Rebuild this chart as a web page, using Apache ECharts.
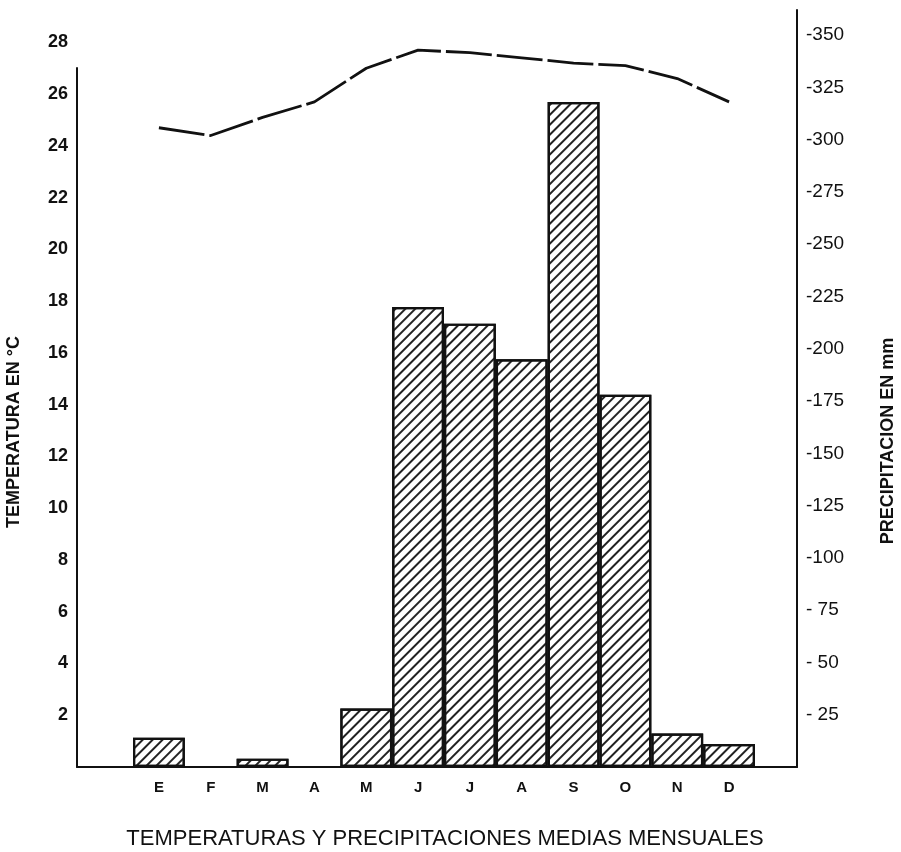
<!DOCTYPE html>
<html>
<head>
<meta charset="utf-8">
<script src="https://cdn.jsdelivr.net/npm/echarts@6/dist/echarts.min.js"></script>
<style>
html,body{margin:0;padding:0;background:#fff;}
#chart{width:901px;height:852px;}
</style>
</head>
<body>
<div id="chart"></div>
<script>
const months = ['E','F','M','A','M','J','J','A','S','O','N','D'];
const precipitation = [14, 0, 4, 0, 28, 220, 212, 195, 318, 178, 16, 11];
const temperature = [24.7, 24.4, 25.1, 25.7, 27.0, 27.7, 27.6, 27.4, 27.2, 27.1, 26.6, 25.7];
const tempTicks = {min: 0, max: 29.25, interval: 2};
const precTicks = {min: 0, max: 362, interval: 25};
const titleText = 'TEMPERATURAS Y PRECIPITACIONES MEDIAS MENSUALES';
const leftName = 'TEMPERATURA EN °C';
const rightName = 'PRECIPITACION EN mm';

const FONT = '"Liberation Sans", Arial, sans-serif';
const chart = echarts.init(document.getElementById('chart'), null, {renderer: 'canvas'});

const option = {
  backgroundColor: '#fff',
  animation: false,
  title: {
    text: titleText, left: 440, top: 823, textAlign: 'center',
    textStyle: {fontFamily: FONT, fontSize: 22, fontWeight: 'normal', color: '#111'}
  },
  graphic: [
    {type: 'text', x: 14, y: 432, rotation: Math.PI / 2,
     style: {text: leftName, fontFamily: FONT, fontSize: 18, fontWeight: 'bold', fill: '#111', align: 'center', verticalAlign: 'middle'}},
    {type: 'text', x: 888, y: 441, rotation: Math.PI / 2,
     style: {text: rightName, fontFamily: FONT, fontSize: 18, fontWeight: 'bold', fill: '#111', align: 'center', verticalAlign: 'middle'}}
  ],
  grid: [
    {left: 77, right: 104, top: 10, bottom: 85},
    {left: 77, right: 104, top: 68, bottom: 85},
    {left: 133, right: 146, top: 10, bottom: 85}
  ],
  xAxis: [
    {type: 'category', gridIndex: 0, data: months, axisLine: {show: true, lineStyle: {color: '#111', width: 2}},
     axisTick: {show: false}, axisLabel: {show: false}, splitLine: {show: false}},
    {type: 'category', gridIndex: 1, data: months, show: false},
    {type: 'category', gridIndex: 2, data: months, axisLine: {show: false}, axisTick: {show: false},
     axisLabel: {fontFamily: FONT, fontSize: 15, fontWeight: 'bold', color: '#111', margin: 13}}
  ],
  yAxis: [
    {type: 'value', gridIndex: 0, position: 'right', min: precTicks.min, max: precTicks.max, interval: precTicks.interval,
     axisLine: {show: true, lineStyle: {color: '#111', width: 2}}, axisTick: {show: false}, splitLine: {show: false},
     axisLabel: {showMinLabel: false, showMaxLabel: false, margin: 9, fontFamily: FONT, fontSize: 19, color: '#111',
       formatter: v => (v < 100 ? '- ' : '-') + v}},
    {type: 'value', gridIndex: 0, position: 'left', min: tempTicks.min, max: tempTicks.max, interval: tempTicks.interval,
     axisLine: {show: false}, axisTick: {show: false}, splitLine: {show: false},
     axisLabel: {showMinLabel: false, showMaxLabel: false, margin: 9, fontFamily: FONT, fontSize: 18, fontWeight: 'bold', color: '#111'}},
    {type: 'value', gridIndex: 1, position: 'left', min: 0, max: 27,
     axisLine: {show: true, lineStyle: {color: '#111', width: 2}}, axisTick: {show: false}, splitLine: {show: false}, axisLabel: {show: false}},
    {type: 'value', gridIndex: 2, min: precTicks.min, max: precTicks.max, show: false, splitLine: {show: false}},
    {type: 'value', gridIndex: 2, min: tempTicks.min, max: tempTicks.max, show: false, splitLine: {show: false}}
  ],
  series: [
    {type: 'bar', name: 'Precipitación', xAxisIndex: 2, yAxisIndex: 3, data: precipitation,
     barCategoryGap: '0%', barGap: '0%',
     itemStyle: {color: '#fff', borderColor: '#111', borderWidth: 2.2,
       decal: {symbol: 'rect', symbolSize: 1, color: '#222', dashArrayX: [1, 0], dashArrayY: [1.6, 5], rotation: -Math.PI / 4}}},
    {type: 'line', name: 'Temperatura', xAxisIndex: 2, yAxisIndex: 4, data: temperature, symbol: 'none',
     lineStyle: {color: '#111', width: 2.8, type: [46, 5]}}
  ]
};
chart.setOption(option);
</script>
</body>
</html>
